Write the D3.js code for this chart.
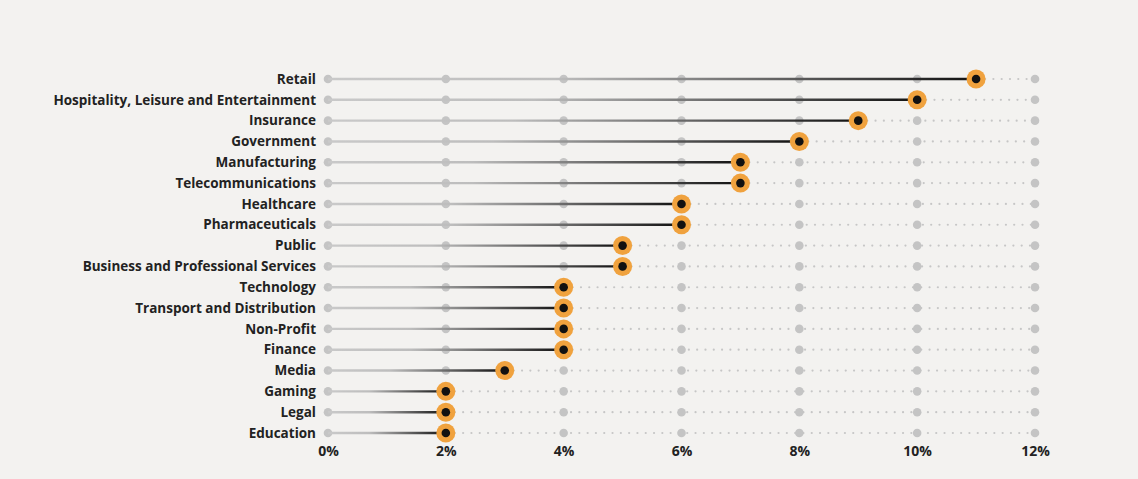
<!DOCTYPE html>
<html><head><meta charset="utf-8">
<script src="https://cdn.jsdelivr.net/npm/d3@7"></script>
<style>
html,body{margin:0;padding:0;background:#f3f2f0;}
svg{display:block;}
text{font-family:"Open Sans","Noto Sans",sans-serif;font-weight:700;fill:#222;}
</style></head><body>
<svg id="c" width="1138" height="479"></svg>
<script>
const categories = ["Retail","Hospitality, Leisure and Entertainment","Insurance","Government","Manufacturing","Telecommunications","Healthcare","Pharmaceuticals","Public","Business and Professional Services","Technology","Transport and Distribution","Non-Profit","Finance","Media","Gaming","Legal","Education"];
const values = [11,10,9,8,7,7,6,6,5,5,4,4,4,4,3,2,2,2];
const tickValues = [0,2,4,6,8,10,12];
const tickLabels = ["0%","2%","4%","6%","8%","10%","12%"];

const svg = d3.select("#c");
const x = d3.scaleLinear().domain([0,12]).range([328,1035]);
const y = d3.scalePoint().domain(categories).range([79,433]);

const defs = svg.append("defs");
categories.forEach((c,i)=>{
  const g = defs.append("linearGradient").attr("id","g"+i)
    .attr("gradientUnits","userSpaceOnUse")
    .attr("x1",x(0)).attr("x2",x(values[i])).attr("y1",0).attr("y2",0);
  g.append("stop").attr("offset","0%").attr("stop-color","#c9c9c9");
  g.append("stop").attr("offset","35%").attr("stop-color","#bdbdbd");
  g.append("stop").attr("offset","100%").attr("stop-color","#111");
});

const rows = svg.append("g").selectAll("g").data(categories).join("g")
  .attr("transform",d=>`translate(0,${y(d)})`);

// dotted remainder
rows.each(function(d,i){
  const g = d3.select(this);
  const start = x(values[i]), end = x(12);
  const dots = d3.range(start+9, end-4, 8.3);
  g.selectAll("circle.dot").data(dots).join("circle").attr("class","dot")
    .attr("cx",v=>v).attr("cy",0).attr("r",1.1).attr("fill","#c6c6c6");
});
// grid dots
rows.selectAll("circle.grid").data(tickValues).join("circle").attr("class","grid")
  .attr("cx",t=>x(t)).attr("cy",0).attr("r",4.3).attr("fill","#c4c4c4");
// line
rows.append("line").attr("x1",x(0)).attr("x2",(d,i)=>x(values[i]))
  .attr("y1",0).attr("y2",0).attr("stroke",(d,i)=>`url(#g${i})`).attr("stroke-width",2.4);
// end markers
rows.append("circle").attr("cx",(d,i)=>x(values[i])).attr("r",9.5).attr("fill","#f0a23e");
rows.append("circle").attr("cx",(d,i)=>x(values[i])).attr("r",4.3).attr("fill","#111");
// labels
rows.append("text").attr("x",316).attr("y",0).attr("dy","0.35em")
  .attr("text-anchor","end").attr("font-size",13.5).text(d=>d);

// axis
const axis = d3.axisBottom(x).tickValues(tickValues).tickSize(0).tickPadding(0)
  .tickFormat((d,i)=>tickLabels[i]);
const ag = svg.append("g").attr("transform","translate(0,446)").call(axis);
ag.select(".domain").remove();
ag.selectAll("text").attr("font-size",14).attr("fill","#222").attr("dy","0.71em")
  .style("font-family",'"Open Sans","Noto Sans",sans-serif').style("font-weight",700);
</script></body></html>
